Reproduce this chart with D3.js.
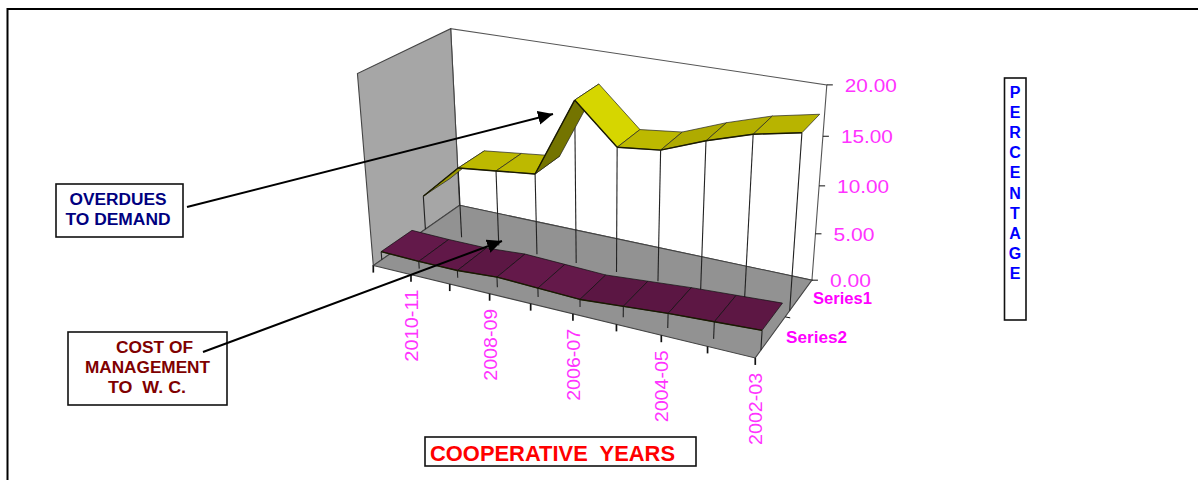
<!DOCTYPE html>
<html><head><meta charset="utf-8">
<script src="https://cdn.jsdelivr.net/npm/d3@7/dist/d3.min.js"></script>
<style>
html,body{margin:0;padding:0;background:#fff;overflow:hidden}
text{font-family:"Liberation Sans",Arial,sans-serif;white-space:pre}
</style></head><body>
<svg id="c" width="1198" height="480"></svg>
<script>
// ---- data ----
const categories = ["2011-12","2010-11","2009-10","2008-09","2007-08","2006-07","2005-06","2004-05","2003-04","2002-03"];
const labelledCategories = ["2010-11","2008-09","2006-07","2004-05","2002-03"];
const overduesToDemand = [3.8,7.8,8.3,8.8,17.2,13.2,13.7,15.4,16.8,17.7];
const costOfManagement = [0.9,0.8,0.8,1.1,0.95,0.8,1.15,1.5,1.75,2.0];
const valueTicks = [0,5,10,15,20];
const seriesNames = ["Series1","Series2"];

// ---- scene (box corners on the page) ----
const anchors = [
 [[0,0,0],[373,266]],[[1,0,0],[755,358]],[[1,1,0],[812,280]],[[0,1,0],[460,205]],
 [[0,0,1],[358,73]],[[0,1,1],[450,29]],[[1,1,1],[827,85]]
];
function solveCamera(pts){
  const A=[],b=[];
  pts.forEach(([[u,w,h],[x,y]])=>{
    A.push([u,w,h,1,0,0,0,0,-x*u,-x*w,-x*h]);b.push(x);
    A.push([0,0,0,0,u,w,h,1,-y*u,-y*w,-y*h]);b.push(y);
  });
  const n=11,M=d3.range(n).map(i=>d3.range(n+1).map(j=>{
    let s=0;A.forEach((r,k)=>{s+=r[i]*(j<n?r[j]:b[k]);});return s;}));
  for(let i=0;i<n;i++){
    let p=i;for(let r=i+1;r<n;r++)if(Math.abs(M[r][i])>Math.abs(M[p][i]))p=r;
    [M[i],M[p]]=[M[p],M[i]];
    for(let r=0;r<n;r++)if(r!==i){const f=M[r][i]/M[i][i];for(let c=i;c<=n;c++)M[r][c]-=f*M[i][c];}
  }
  return M.map((r,i)=>r[n]/r[i]);
}
const cam=solveCamera(anchors);
function project(u,w,h){
  const d=cam[8]*u+cam[9]*w+cam[10]*h+1;
  return [(cam[0]*u+cam[1]*w+cam[2]*h+cam[3])/d,(cam[4]*u+cam[5]*w+cam[6]*h+cam[7])/d];
}
const uScale=d3.scalePoint().domain(categories).range([0,1]);
const hScale=d3.scaleLinear().domain([0,20]).range([0,1]);
const depth={Series2:[0.09,0.43],Series1:[0.58,0.90]};
const P=(cat,w,v)=>project(uScale(cat),w,hScale(v));

const svg=d3.select("#c");
const line=d3.line();
const poly=pts=>line(pts)+"Z";

// outer frame
svg.append("path").attr("d","M1198,9H7.5V480").attr("fill","none").attr("stroke","#000").attr("stroke-width",2);

const walls=svg.append("g");
const corner=(u,w,h)=>project(u,w,h);
walls.append("path").attr("d",poly([corner(0,1,0),corner(0,1,1),corner(1,1,1),corner(1,1,0)]))
  .attr("fill","#fff").attr("stroke","#555").attr("stroke-width",1.1);
walls.append("path").attr("d",poly([corner(0,0,0),corner(0,1,0),corner(0,1,1),corner(0,0,1)]))
  .attr("fill","#a6a6a6").attr("stroke","#444").attr("stroke-width",1.1);
walls.append("path").attr("d",poly([corner(0,0,0),corner(1,0,0),corner(1,1,0),corner(0,1,0)]))
  .attr("fill","#929292").attr("stroke","#444").attr("stroke-width",1.1);

// axis ticks
const ticks=svg.append("g").attr("stroke","#111").attr("stroke-width",1.7);
categories.forEach(c=>{
  const p=P(c,0,0);
  ticks.append("line").attr("x1",p[0]).attr("y1",p[1]).attr("x2",p[0]).attr("y2",p[1]+7);
});
valueTicks.forEach(v=>{
  const p=project(1,1,hScale(v));
  ticks.append("line").attr("x1",p[0]).attr("y1",p[1]).attr("x2",p[0]+6).attr("y2",p[1]).attr("stroke-width",1);
});
[0.5].forEach(w=>{
  const p=project(1,w,0);
  ticks.append("line").attr("x1",p[0]).attr("y1",p[1]).attr("x2",p[0]+5).attr("y2",p[1]+1).attr("stroke-width",1);
});

// ribbons
const yellowShade=d3.scaleLinear().domain([-4,0,2,9]).range(["#d6d600","#c2be00","#aca800","#6f6f00"]);
const purpleShade=d3.scaleLinear().domain([-0.4,0,0.4]).range(["#6a1a4e","#611848","#5a1642"]);
function ribbon(values,w,shade,stroke){
  const g=svg.append("g");
  categories.forEach((c,i)=>{
    const a=P(c,w[0],values[i]),b=P(c,w[0],0);
    g.append("line").attr("x1",a[0]).attr("y1",a[1]).attr("x2",b[0]).attr("y2",b[1])
      .attr("stroke","#222").attr("stroke-width",1.1);
  });
  d3.pairs(categories.map((c,i)=>[c,values[i]])).forEach(([[c0,v0],[c1,v1]])=>{
    g.append("path").attr("d",poly([P(c0,w[0],v0),P(c1,w[0],v1),P(c1,w[1],v1),P(c0,w[1],v0)]))
      .attr("fill",shade(v1-v0)).attr("stroke",stroke).attr("stroke-width",0.7).attr("stroke-linejoin","round");
    g.append("path").attr("d",line([P(c0,w[0],v0),P(c1,w[0],v1)]))
      .attr("fill","none").attr("stroke","#1a1a00").attr("stroke-width",1.4);
  });
}
ribbon(overduesToDemand,depth.Series1,yellowShade,"#222");
ribbon(costOfManagement,depth.Series2,purpleShade,"#111");

function label(x,y,str,len,opts={}){
  const t=svg.append("text").attr("x",x).attr("y",y).text(str)
    .attr("fill",opts.fill||"#ff33ff").attr("font-size",opts.size||18)
    .attr("font-weight",opts.weight||"normal");
  if(len)t.attr("textLength",len).attr("lengthAdjust","spacingAndGlyphs");
  if(opts.anchor)t.attr("text-anchor",opts.anchor);
  return t;
}
valueTicks.forEach(v=>{
  const p=project(1,1,hScale(v));
  const s=d3.format(".2f")(v);
  label(p[0]+18,p[1]+7,s,v<10?41:52,{size:18});
});
labelledCategories.forEach(c=>{
  const p=P(c,0,0);
  const len=72;
  const top=p[1]+15, bottom=top+len;
  const x=p[0]+7;
  svg.append("text").attr("transform",`translate(${x},${bottom}) rotate(-90)`).text(c)
    .attr("fill","#ff33ff").attr("font-size",18)
    .attr("textLength",len).attr("lengthAdjust","spacingAndGlyphs");
});
label(813,304,seriesNames[0],59,{fill:"#ff00ff",weight:"bold",size:16});
label(786,343,seriesNames[1],61,{fill:"#ff00ff",weight:"bold",size:16});

function box(x0,y0,x1,y1){
  svg.append("rect").attr("x",x0).attr("y",y0).attr("width",x1-x0).attr("height",y1-y0)
    .attr("fill","#fff").attr("stroke","#111").attr("stroke-width",1.6);
}
box(56,184,183,237);
label(118,205,"OVERDUES",97,{fill:"#000080",weight:"bold",size:16,anchor:"middle"});
label(118,225,"TO DEMAND",105,{fill:"#000080",weight:"bold",size:16,anchor:"middle"});
box(68,332,227,405);
label(116,353,"COST OF",77,{fill:"#800000",weight:"bold",size:16});
label(85,373,"MANAGEMENT",125,{fill:"#800000",weight:"bold",size:16});
label(108,393,"TO  W. C.",78,{fill:"#800000",weight:"bold",size:16});
box(1004.5,78,1026,320);
"PERCENTAGE".split("").forEach((ch,i)=>{
  label(1015,98+i*20.1,ch,null,{fill:"#0000ff",weight:"bold",size:16,anchor:"middle"});
});
box(425,437,696,466);
label(430,461,"COOPERATIVE  YEARS",245,{fill:"#ff0000",weight:"bold",size:22});

const defs=svg.append("defs");
defs.append("marker").attr("id","ah").attr("markerUnits","userSpaceOnUse").attr("markerWidth",18).attr("markerHeight",16)
  .attr("refX",15).attr("refY",7).attr("orient","auto")
  .append("path").attr("d","M0,0L15,7L0,14Z").attr("fill","#000");
[[[187,207],[553,114]],[[203,352],[502,241]]].forEach(pts=>{
  svg.append("path").attr("d",line(pts)).attr("stroke","#000").attr("stroke-width",2).attr("fill","none").attr("marker-end","url(#ah)");
});
</script>
</body></html>
